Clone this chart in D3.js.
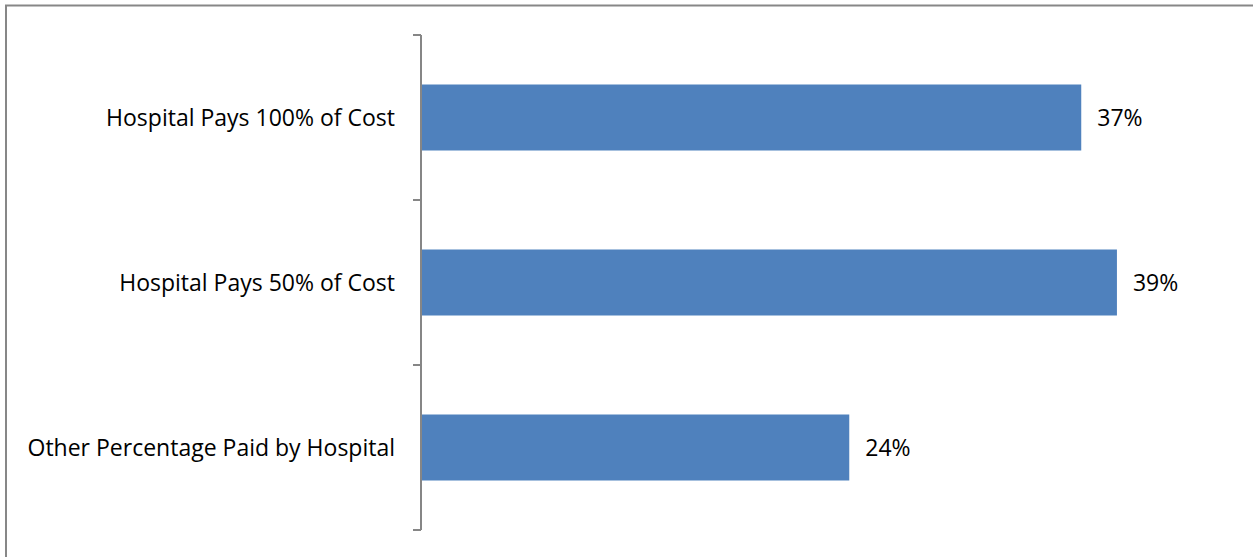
<!DOCTYPE html>
<html>
<head>
<meta charset="utf-8">
<script src="https://cdn.jsdelivr.net/npm/d3@7"></script>
<style>
    body { margin: 0; background: #fff; }
    svg text { font-family: "Open Sans", "Noto Sans", sans-serif; fill: #000; }
</style>
</head>
<body>
<div id="chart"></div>
<script>
// Chart data
const categories = ["Hospital Pays 100% of Cost", "Hospital Pays 50% of Cost", "Other Percentage Paid by Hospital"];
const values = [0.37, 0.39, 0.24];
const valueLabels = ["37%", "39%", "24%"];

const W = 1253, H = 557;
const plot = { left: 421, top: 35, bottom: 530, right: 1224 };

const svg = d3.select("#chart")
    .append("svg")
    .attr("width", W)
    .attr("height", H);

// Outer frame
svg.append("rect")
    .attr("x", 6)
    .attr("y", 5.5)
    .attr("width", W + 10)
    .attr("height", H + 10)
    .attr("fill", "none")
    .attr("stroke", "#878787")
    .attr("stroke-width", 2);

// Scales
const x = d3.scaleLinear()
    .domain([0, 0.45])
    .range([plot.left, plot.right]);

const y = d3.scaleBand()
    .domain(categories)
    .range([plot.top, plot.bottom])
    .paddingInner(0.6)
    .paddingOuter(0.3);

// Bars
svg.selectAll(".bar")
    .data(categories)
    .enter().append("rect")
    .attr("class", "bar")
    .attr("x", x(0))
    .attr("y", d => y(d))
    .attr("width", (d, i) => x(values[i]) - x(0))
    .attr("height", y.bandwidth())
    .attr("fill", "#4F81BD");

// Value labels
svg.selectAll(".value")
    .data(categories)
    .enter().append("text")
    .attr("class", "value")
    .attr("x", (d, i) => x(values[i]) + 16)
    .attr("y", d => y(d) + y.bandwidth() / 2)
    .attr("dy", "0.35em")
    .style("font-size", "23px")
    .text((d, i) => valueLabels[i]);

// Category axis: line, ticks at band edges
const axisColor = "#868686";
svg.append("line")
    .attr("x1", plot.left).attr("x2", plot.left)
    .attr("y1", plot.top).attr("y2", plot.bottom)
    .attr("stroke", axisColor)
    .attr("stroke-width", 2);

const edges = d3.range(categories.length + 1).map(i => plot.top + i * y.step());
svg.selectAll(".tick")
    .data(edges)
    .enter().append("line")
    .attr("class", "tick")
    .attr("x1", plot.left - 8).attr("x2", plot.left)
    .attr("y1", d => d).attr("y2", d => d)
    .attr("stroke", axisColor)
    .attr("stroke-width", 2);

svg.selectAll(".cat")
    .data(categories)
    .enter().append("text")
    .attr("class", "cat")
    .attr("x", plot.left - 26)
    .attr("y", d => y(d) + y.bandwidth() / 2)
    .attr("dy", "0.35em")
    .attr("text-anchor", "end")
    .style("font-size", "23px")
    .text(d => d);
</script>
</body>
</html>
